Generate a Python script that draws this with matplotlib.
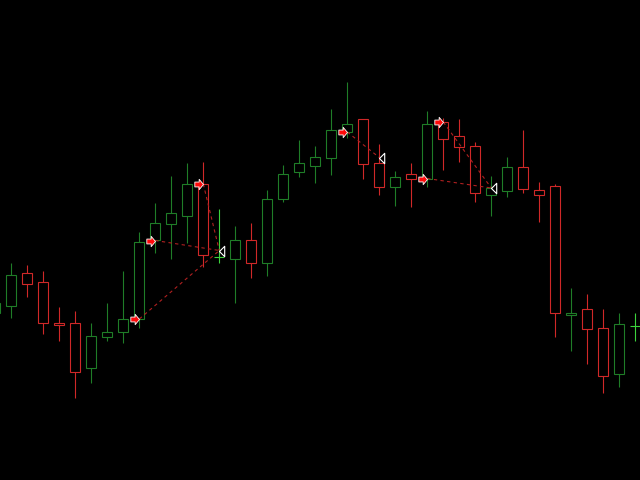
import numpy as np
import matplotlib
matplotlib.use('Agg')
import matplotlib.pyplot as plt
from matplotlib.path import Path

# OHLC bars (arbitrary price units)
opens = [167, 174, 207, 198, 157, 157, 112, 143, 148, 161, 240, 256, 264, 296,
         223, 221, 240, 217, 281, 308, 314, 322, 348, 361, 317, 293, 306, 301.5,
         358, 344, 334, 285, 289, 313, 290, 294, 165, 171, 152, 106, 154]
highs = [184, 217, 215, 209, 173, 169, 157, 177, 209, 248, 277, 304, 317, 318,
         271, 254, 257, 290, 315, 340, 334, 371, 398, 361, 336, 309, 317, 369,
         362, 361, 338, 304, 323, 350, 298, 296, 192, 186, 171, 167, 167]
lows = [162, 162, 183, 146, 139, 82, 97, 139, 137, 152, 227, 221, 237, 213,
        217, 177, 202, 204, 278, 303, 297, 305, 342, 301, 285, 274, 273, 293,
        310, 318, 278, 264, 283, 287, 258, 143, 129, 116, 87, 93, 139]
closes = [177, 205, 196, 157, 155, 108, 144, 148, 161, 238, 257, 267, 296, 225,
          223, 240, 217, 281, 306, 317, 323, 350, 356, 316, 293, 303, 301, 356,
          341, 333, 287, 292, 313, 291.5, 285, 167, 167, 151, 104, 156, 154]

# signal arrows, each joined to a target bar
arrow_idx = [9, 10, 13, 22, 27, 28]
arrow_px = [161, 239.5, 296, 348, 301.5, 358]
link_to = [0, 0, 0, 1, 2, 2]
target_idx = [14, 24, 31]
target_px = [229.5, 322.5, 292]

GREEN = '#1f7d27'
RED = '#d02828'
DOJI = '#3cd23c'
BODY_W = 0.64

x = np.arange(len(opens))
o = np.array(opens, dtype=float)
h = np.array(highs, dtype=float)
l = np.array(lows, dtype=float)
c = np.array(closes, dtype=float)

fig = plt.figure(figsize=(6.4, 4.8), dpi=100, facecolor='black')
ax = fig.add_axes([0, 0, 1, 1])
ax.set_facecolor('black')

doji = o == c
up = (c > o) & ~doji
colors = np.where(doji, DOJI, np.where(up, GREEN, RED))

# wicks
ax.vlines(x, l, h, colors=colors, linewidth=0.8, zorder=1)

# hollow bodies
nd = ~doji
bottoms = np.minimum(o, c)[nd]
heights = np.abs(c - o)[nd]
ax.bar(x[nd], heights, bottom=bottoms, width=BODY_W, facecolor='black',
       edgecolor=colors[nd], linewidth=0.8, zorder=2)
ax.hlines(o[doji], x[doji] - BODY_W / 2, x[doji] + BODY_W / 2,
          colors=DOJI, linewidth=0.8, zorder=2)

# dashed connectors
for ai, ap, k in zip(arrow_idx, arrow_px, link_to):
    ax.plot([ai, target_idx[k]], [ap, target_px[k]], color='#b02020',
            linewidth=0.8, linestyle=(0, (3, 3)), zorder=3)

# right arrow marker, tip at anchor
arrow = Path([(0, 0), (-0.5, 0.6), (-0.5, 0.28), (-1, 0.28), (-1, -0.28),
              (-0.5, -0.28), (-0.5, -0.6), (0, 0)],
             [Path.MOVETO] + [Path.LINETO] * 6 + [Path.CLOSEPOLY])
ax.plot(arrow_idx, arrow_px, linestyle='none', marker=arrow, markersize=12.5,
        markerfacecolor='#ff0a0a', markeredgecolor='white',
        markeredgewidth=0.6, zorder=4)

# left triangle marker, tip at anchor
tri = Path([(0, 0), (1, 1), (1, -1), (0, 0)],
           [Path.MOVETO, Path.LINETO, Path.LINETO, Path.CLOSEPOLY])
ax.plot(target_idx, target_px, linestyle='none', marker=tri, markersize=7.5,
        markerfacecolor='black', markeredgecolor='white',
        markeredgewidth=0.8, zorder=4)

ax.set_xlim(0.294, 40.294)
ax.set_ylim(0, 480)
ax.axis('off')

fig.savefig('out.png', dpi=100, facecolor='black')
